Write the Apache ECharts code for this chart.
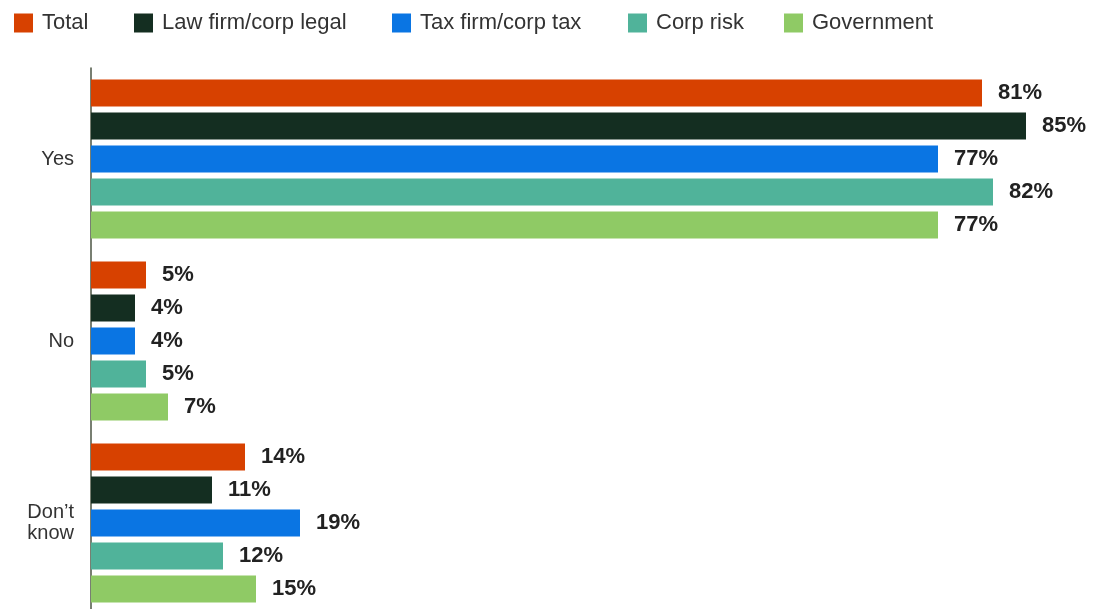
<!DOCTYPE html>
<html>
<head>
<meta charset="utf-8">
<script src="https://cdn.jsdelivr.net/npm/echarts@6/dist/echarts.min.js"></script>
<style>html,body{margin:0;padding:0;background:#fff;overflow:hidden;}#c{width:1103px;height:614px;}</style>
</head>
<body>
<div id="c"></div>
<script>
const categories = ['Yes', 'No', 'Don\u2019t\nknow'];
const seriesNames = ['Total', 'Law firm/corp legal', 'Tax firm/corp tax', 'Corp risk', 'Government'];
const totalValues = [81, 5, 14];
const lawValues = [85, 4, 11];
const taxValues = [77, 4, 19];
const riskValues = [82, 5, 12];
const govValues = [77, 7, 15];
const colors = ['#D74100', '#142E21', '#0A75E3', '#50B39A', '#8FCA65'];
const legendLefts = [14, 134, 392, 628, 784];

const allValues = [totalValues, lawValues, taxValues, riskValues, govValues];
const chart = echarts.init(document.getElementById('c'));
chart.setOption({
  animation: false,
  textStyle: { fontFamily: 'Liberation Sans, Arial, sans-serif' },
  legend: seriesNames.map((name, i) => ({
    left: legendLefts[i], top: 12, padding: 0, itemWidth: 19, itemHeight: 19,
    icon: 'rect', selectedMode: false,
    textStyle: { fontSize: 22, color: '#333', padding: [0, 0, 0, 4] },
    data: [name]
  })),
  grid: { left: 91, width: 990, top: 68, bottom: 0, containLabel: false },
  xAxis: { type: 'value', min: 0, max: 90, show: false },
  yAxis: {
    type: 'category', data: categories, inverse: true,
    axisLine: { show: true, lineStyle: { color: '#4b5543', width: 1.5 } },
    axisTick: { show: false },
    axisLabel: { fontSize: 20, color: '#333', margin: 17, lineHeight: 21, align: 'right' }
  },
  series: seriesNames.map((name, i) => ({
    name: name, type: 'bar', data: allValues[i],
    barWidth: 27, barGap: '22%',
    itemStyle: { color: colors[i] },
    label: {
      show: true, position: 'right', distance: 16,
      formatter: '{c}%', fontSize: 22, fontWeight: 'bold', color: '#222'
    }
  }))
});
</script>
</body>
</html>
